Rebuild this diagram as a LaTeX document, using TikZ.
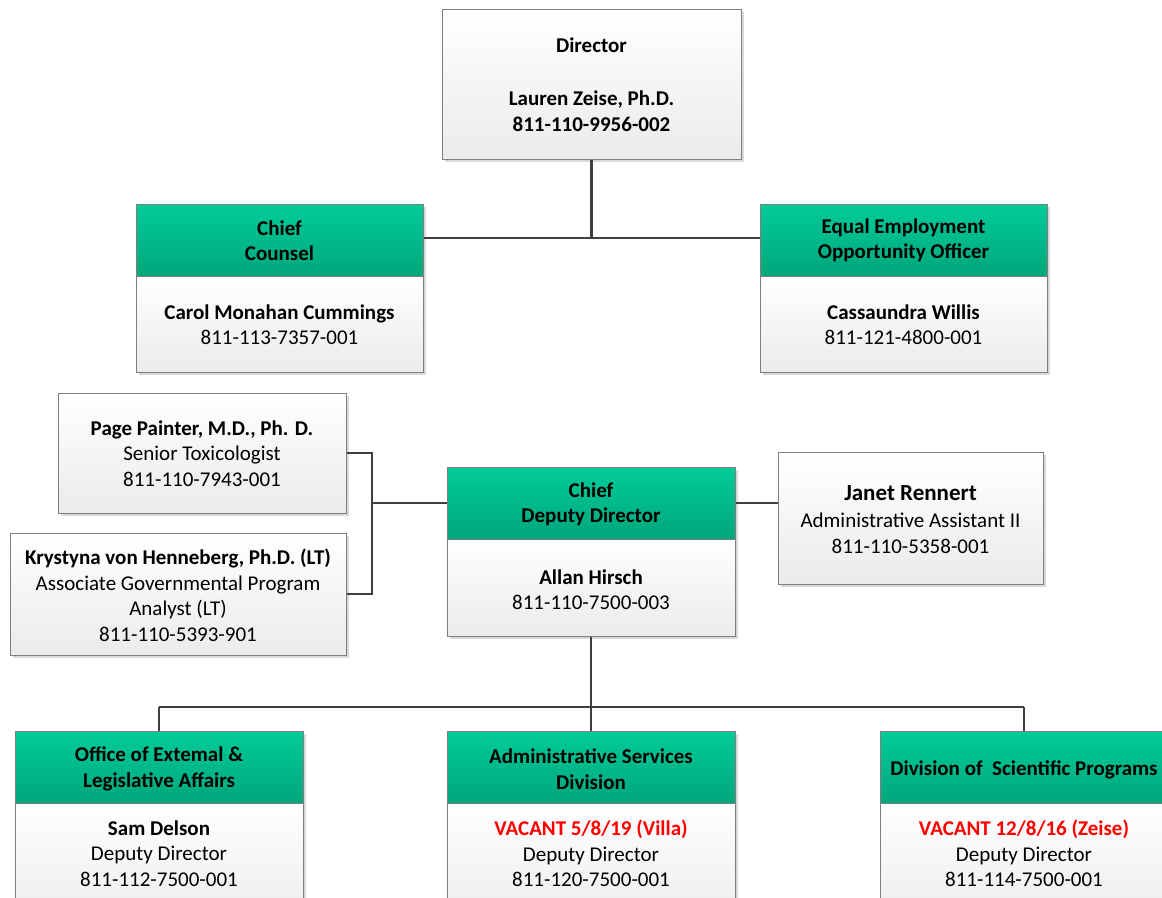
\documentclass[tikz,border=0pt]{standalone}
\usepackage{fontspec}
\setmainfont{Carlito}
\usetikzlibrary{shadows}
\definecolor{grhead}{HTML}{00CC99}
\definecolor{grheadb}{HTML}{00A67C}
\definecolor{boxline}{HTML}{7F7F7F}
\definecolor{conn}{HTML}{3F3F3F}
\definecolor{bodyb}{HTML}{EBEBEB}
\definecolor{vacred}{HTML}{FF0000}
\tikzset{
  card/.style={draw=boxline, line width=1pt, top color=white, bottom color=bodyb,
    drop shadow={shadow xshift=3pt, shadow yshift=-3pt, opacity=0.15, fill=black},
    inner sep=0pt, anchor=center},
  head/.style={draw=boxline, line width=1pt, top color=grhead, bottom color=grheadb,
    drop shadow={shadow xshift=3pt, shadow yshift=-3pt, opacity=0.15, fill=black},
    inner sep=0pt, anchor=center},
  txt/.style={align=center, font=\fontsize{21}{25.5}\selectfont, inner sep=0pt, text=black, yshift=-6pt},
  link/.style={draw=conn, line width=2.7pt}
}
\begin{document}
\begin{tikzpicture}[x=1pt,y=-1pt]
\useasboundingbox (0,0) rectangle (1162,897);
\fill[white] (0,0) rectangle (1162,897);

\coordinate (j1) at (591.5,238);
\coordinate (br) at (372,503);
\coordinate (j2) at (591,707);

% Director
\node[card, minimum width=299pt, minimum height=150pt] (dir) at (591.5,84) {};
\node[txt] (tdir) at (591.5,78.5) {\textbf{Director}\\[28pt]\textbf{Lauren Zeise, Ph.D.}\\\textbf{811-110-9956-002}};

% Chief Counsel
\node[head, minimum width=287pt, minimum height=72pt] (cch) at (279.5,240) {};
\node[card, minimum width=287pt, minimum height=96pt] (ccb) at (279.5,324) {};
\node[txt] (tcch) at (279.5,234.5) {\textbf{Chief}\\\textbf{Counsel}};
\node[txt] (tccb) at (279.5,318.5) {\textbf{Carol Monahan Cummings}\\811-113-7357-001};

% EEO
\node[head, minimum width=287pt, minimum height=72pt] (eeoh) at (903.5,240) {};
\node[card, minimum width=287pt, minimum height=96pt] (eeob) at (903.5,324) {};
\node[txt] (teeoh) at (903.5,234.5) {\textbf{Equal Employment}\\\textbf{Opportunity Officer}};
\node[txt] (teeob) at (903.5,318.5) {\textbf{Cassaundra Willis}\\811-121-4800-001};

% Page Painter
\node[card, minimum width=288pt, minimum height=120pt] (page) at (202,453) {};
\node[txt] (tpage) at (202,447.5) {\textbf{Page Painter, M.D., Ph. D.}\\Senior Toxicologist\\811-110-7943-001};

% Krystyna
\node[card, minimum width=336pt, minimum height=122pt] (kry) at (178,594) {};
\node[txt] (tkry) at (178,589.5) {\textbf{Krystyna von Henneberg, Ph.D. (LT)}\\Associate Governmental Program\\Analyst (LT)\\811-110-5393-901};

% Chief Deputy Director
\node[head, minimum width=288pt, minimum height=72pt] (cdh) at (591,503) {};
\node[card, minimum width=288pt, minimum height=97pt] (cdb) at (591,587.5) {};
\node[txt] (tcdh) at (591,498.5) {\textbf{Chief}\\\textbf{Deputy Director}};
\node[txt] (tcdb) at (591,583.5) {\textbf{Allan Hirsch}\\811-110-7500-003};

% Janet
\node[card, minimum width=265pt, minimum height=132pt] (jan) at (910.5,518) {};
\node[txt] (tjan) at (910.5,513.5) {{\fontsize{23}{27}\selectfont\textbf{Janet Rennert}}\\[2pt]Administrative Assistant II\\811-110-5358-001};

% Bottom row
\node[head, minimum width=288pt, minimum height=72pt] (oelh) at (159,767) {};
\node[card, minimum width=288pt, minimum height=127pt] (oelb) at (159,866.5) {};
\node[txt] (toelh) at (159,763) {\textbf{Office of Extemal \&}\\\textbf{Legislative Affairs}};
\node[txt] (toelb) at (159,847.5) {\textbf{Sam Delson}\\Deputy Director\\811-112-7500-001};

\node[head, minimum width=288pt, minimum height=72pt] (asdh) at (591,767) {};
\node[card, minimum width=288pt, minimum height=127pt] (asdb) at (591,866.5) {};
\node[txt] (tasdh) at (591,763) {\textbf{Administrative Services}\\\textbf{Division}};
\node[txt] (tasdb) at (591,847.5) {\textbf{\color{vacred}VACANT 5/8/19 (Villa)}\\Deputy Director\\811-120-7500-001};

\node[head, minimum width=288pt, minimum height=72pt] (dsph) at (1024,767) {};
\node[card, minimum width=288pt, minimum height=127pt] (dspb) at (1024,866.5) {};
\node[txt] (tdsph) at (1024,763.5) {\textbf{Division of\ \ Scientific Programs}};
\node[txt] (tdspb) at (1024,847.5) {\textbf{\color{vacred}VACANT 12/8/16 (Zeise)}\\Deputy Director\\811-114-7500-001};

% connectors
\draw[link] (dir.south) -- (j1);
\draw[link] (cch.east |- j1) -- (eeoh.west |- j1);
\draw[link] (page.east) -| (br) |- (kry.east);
\draw[link] (br) -- (cdh.west);
\draw[link] (cdh.east) -- (jan.west |- cdh.east);
\draw[link] (cdb.south) -- (j2);
\draw[link] (oelh.north |- j2) -- (dsph.north |- j2);
\draw[link] (oelh.north |- j2) -- (oelh.north);
\draw[link] (j2) -- (asdh.north);
\draw[link] (dsph.north |- j2) -- (dsph.north);
\end{tikzpicture}
\end{document}
